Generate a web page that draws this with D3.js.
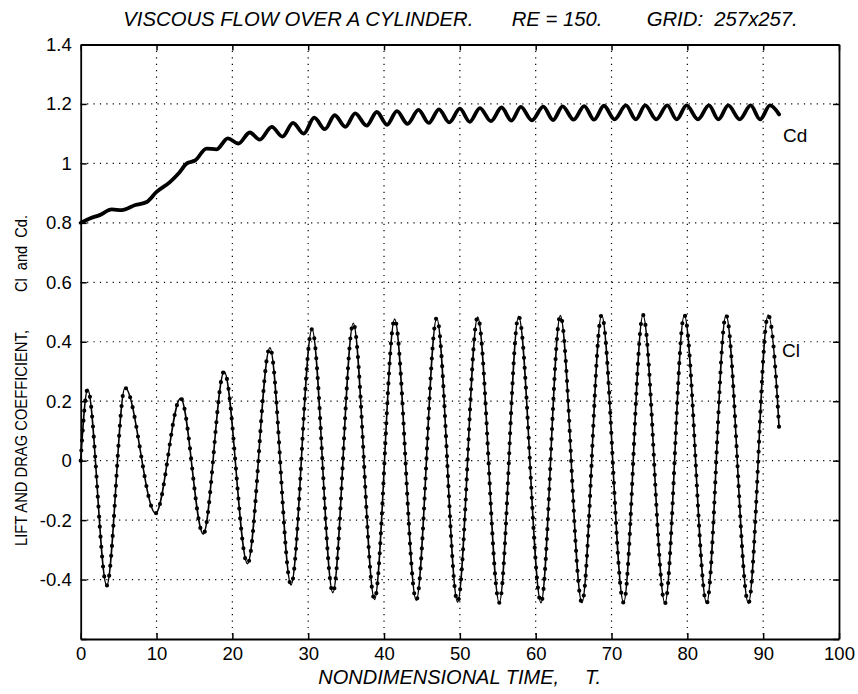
<!DOCTYPE html>
<html><head><meta charset="utf-8">
<script src="https://cdn.jsdelivr.net/npm/d3@7"></script>
<style>
body{margin:0;background:#fff}
text{font-family:"Liberation Sans",Arial,Helvetica,sans-serif;fill:#000;white-space:pre}
</style>
</head><body>
<svg id="chart" width="858" height="694"></svg>
<script>
// ---- data ----
const xTicks = [0,10,20,30,40,50,60,70,80,90,100];
const yTicks = [-0.6,-0.4,-0.2,0,0.2,0.4,0.6,0.8,1,1.2,1.4];
const yTickLabels = ["","-0.4","-0.2","0","0.2","0.4","0.6","0.8","1","1.2","1.4"];

// Lift coefficient Cl : extrema (time, value)
const clTime = [0,0.92,3.43,5.84,9.88,13.18,16.16,18.92,22.0,24.95,27.74,30.5,33.25,35.95,38.75,41.4,44.25,46.95,49.7,52.35,55.2,57.75,60.7,63.25,66.1,68.7,71.6,74.15,77.05,79.6,82.55,85.1,88.05,90.65,91.95,92.1];
const clValue = [0.0,0.24,-0.42,0.245,-0.177,0.21,-0.247,0.30,-0.347,0.38,-0.418,0.442,-0.444,0.462,-0.467,0.476,-0.47,0.48,-0.476,0.483,-0.478,0.486,-0.478,0.488,-0.478,0.49,-0.478,0.49,-0.48,0.49,-0.48,0.49,-0.48,0.49,0.176,0.109];

// Drag coefficient Cd
const cdTime = [0,1.2,2.5,4.1,5.4,7.2,8.7,10.0,11.8,12.9,14.0,15.1,16.6,17.9,19.4,20.8,22.3,23.6,25.2,26.6,28.0,29.4,30.8,32.2,33.5,34.9,36.2,37.7,39.05,40.4,41.7,43.1,44.55,45.9,47.25,48.6,50.0,51.3,52.65,54.1,55.5,56.8,58.05,59.5,61.0,62.3,63.55,65.0,66.4,67.7,69.0,70.4,71.9,73.2,74.45,75.9,77.35,78.6,79.9,81.4,82.85,84.1,85.4,86.9,88.35,89.6,90.9,92.1];
const cdValue = [0.80,0.815,0.826,0.845,0.843,0.86,0.87,0.904,0.938,0.966,1.0,1.01,1.05,1.047,1.084,1.067,1.104,1.08,1.123,1.09,1.136,1.10,1.154,1.115,1.162,1.123,1.168,1.127,1.173,1.13,1.176,1.133,1.18,1.136,1.182,1.138,1.184,1.14,1.186,1.142,1.188,1.144,1.19,1.145,1.191,1.146,1.192,1.147,1.193,1.147,1.194,1.148,1.195,1.148,1.195,1.148,1.195,1.148,1.195,1.148,1.195,1.148,1.195,1.148,1.195,1.148,1.195,1.165];

// ---- drawing ----
const svg = d3.select("#chart");
const L = 80.7, R = 839, T = 44.5, B = 639;
const x = d3.scaleLinear().domain([0,100]).range([L,R]);
const y = d3.scaleLinear().domain([-0.6,1.4]).range([B,T]);

// grid
const grid = svg.append("g").attr("stroke","#000").attr("stroke-width",1.2).attr("stroke-dasharray","1.2,5.2");
grid.selectAll(".gx").data(xTicks.slice(1,-1)).join("line")
  .attr("x1",d=>x(d)).attr("x2",d=>x(d)).attr("y1",T).attr("y2",B);
grid.selectAll(".gy").data(yTicks.slice(1,-1)).join("line")
  .attr("y1",d=>y(d)).attr("y2",d=>y(d)).attr("x1",L).attr("x2",R);

function styleAxis(g){
  g.select(".domain").attr("stroke","#000").attr("stroke-width",1.8);
  g.selectAll(".tick line").attr("stroke","#000").attr("stroke-width",1.5);
  g.selectAll(".tick text").attr("font-size",18.5).attr("fill","#000")
    .attr("font-family",'"Liberation Sans",Arial,sans-serif');
}
svg.append("g").attr("transform",`translate(0,${B})`)
  .call(d3.axisBottom(x).tickValues(xTicks).tickSizeInner(-6).tickSizeOuter(0).tickPadding(8).tickFormat(d3.format("d")))
  .call(styleAxis);
svg.append("g").attr("transform",`translate(0,${T})`)
  .call(d3.axisTop(x).tickValues(xTicks).tickSizeInner(-6).tickSizeOuter(0).tickFormat(""))
  .call(styleAxis);
svg.append("g").attr("transform",`translate(${L},0)`)
  .call(d3.axisLeft(y).tickValues(yTicks).tickSizeInner(-6).tickSizeOuter(0).tickPadding(9).tickFormat((d,i)=>yTickLabels[i]))
  .call(styleAxis);
svg.append("g").attr("transform",`translate(${R},0)`)
  .call(d3.axisRight(y).tickValues(yTicks).tickSizeInner(-6).tickSizeOuter(0).tickFormat(""))
  .call(styleAxis);

// curves
const clData = clTime.map((t,i)=>[t,clValue[i]]);
const cdData = cdTime.map((t,i)=>[t,cdValue[i]]);
const line = d3.line().x(d=>x(d[0])).y(d=>y(d[1])).curve(d3.curveMonotoneX);

svg.append("path").datum(cdData).attr("d",line).attr("fill","none")
  .attr("stroke","#000").attr("stroke-width",3.8).attr("stroke-linejoin","round").attr("stroke-linecap","round");
svg.append("path").datum(clData).attr("d",line).attr("fill","none")
  .attr("stroke","#000").attr("stroke-width",1.6).attr("stroke-linejoin","round");
svg.append("path").datum(clData).attr("d",line).attr("fill","none")
  .attr("stroke","#000").attr("stroke-width",4.2).attr("stroke-linecap","round").attr("stroke-dasharray","0 10");

// texts
const title = svg.append("g").attr("font-style","italic").attr("font-size",20.3);
title.append("text").attr("x",123.3).attr("y",26).text("VISCOUS FLOW OVER A CYLINDER.");
title.append("text").attr("x",511.7).attr("y",26).text("RE = 150.");
title.append("text").attr("x",646.7).attr("y",26).text("GRID:  257x257.");

const xl = svg.append("g").attr("font-style","italic").attr("font-size",20);
xl.append("text").attr("x",318.3).attr("y",684).text("NONDIMENSIONAL TIME,");
xl.append("text").attr("x",585).attr("y",684).text("T.");

const yl = svg.append("g").attr("font-size",16.5);
yl.append("text").attr("transform","translate(27,546) rotate(-90)").attr("text-anchor","start")
  .attr("textLength",216).attr("lengthAdjust","spacingAndGlyphs").text("LIFT AND DRAG COEFFICIENT,");
yl.append("text").attr("transform","translate(27,292) rotate(-90)").attr("text-anchor","start")
  .attr("textLength",77).attr("lengthAdjust","spacingAndGlyphs").text("Cl  and  Cd.");

svg.append("text").attr("x",783).attr("y",142).attr("font-size",19).text("Cd");
svg.append("text").attr("x",782).attr("y",357).attr("font-size",19).text("Cl");
</script>
</body></html>
